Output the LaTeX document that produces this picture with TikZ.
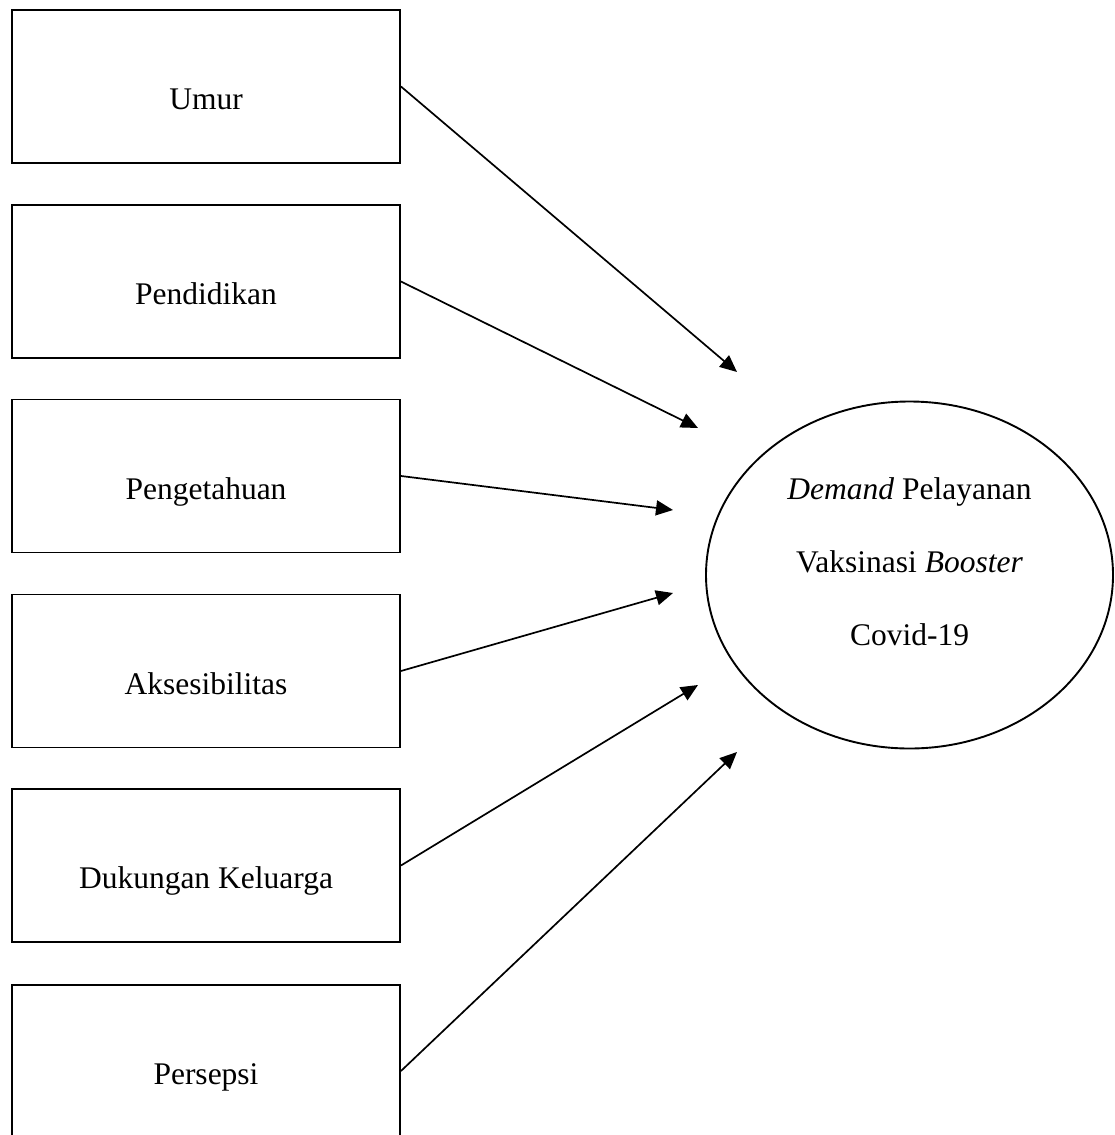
\documentclass[tikz,border=0pt]{standalone}
\usepackage{fontspec}
\setmainfont{Liberation Serif}
\usetikzlibrary{arrows.meta,shapes.geometric}

\tikzset{
    factor/.style={draw, line width=1.9pt, minimum width=388pt, minimum height=153pt,
        inner sep=0pt, text height=46pt, text depth=0pt,
        font=\fontsize{31.5pt}{38pt}\selectfont},
    outcome/.style={draw, ellipse, line width=1.9pt, minimum width=407pt, minimum height=347pt,
        inner sep=0pt},
    effect/.style={-{Triangle[length=17pt, width=15pt]}, line width=1.7pt}
}

\begin{document}
\begin{tikzpicture}[x=1pt, y=-1pt]
    \useasboundingbox (0,0) rectangle (1115,1135);
    \clip (0,0) rectangle (1115,1135);

    % Factor boxes
    \node [factor] (umur) at (206,86.5) {Umur};
    \node [factor] (pend) at (206,281.5) {Pendidikan};
    \node [factor] (peng) at (206,476) {Pengetahuan};
    \node [factor] (akses) at (206,671) {Aksesibilitas};
    \node [factor] (duk) at (206,865.5) {Dukungan Keluarga};
    \node [factor] (pers) at (206,1061.5) {Persepsi};

    % Outcome ellipse
    \node [outcome] (dem) at (909.5,575) {};
    \node [align=center, font=\fontsize{31.5pt}{73pt}\selectfont] (demtxt)
        at ([yshift=13pt]dem.center) {\textit{Demand} Pelayanan\\Vaksinasi \textit{Booster}\\Covid-19};

    % Arrow tips
    \coordinate (tumur) at (737,372);
    \coordinate (tpend) at (698,428);
    \coordinate (tpeng) at (673,510);
    \coordinate (takses) at (673,593);
    \coordinate (tduk) at (698,685);
    \coordinate (tpers) at (737,752);
    \coordinate (spers) at ([yshift=-9.5pt]pers.east);

    \draw [effect] (umur.east) -- (tumur);
    \draw [effect] (pend.east) -- (tpend);
    \draw [effect] (peng.east) -- (tpeng);
    \draw [effect] (akses.east) -- (takses);
    \draw [effect] (duk.east) -- (tduk);
    \draw [effect] (spers) -- (tpers);
\end{tikzpicture}
\end{document}
